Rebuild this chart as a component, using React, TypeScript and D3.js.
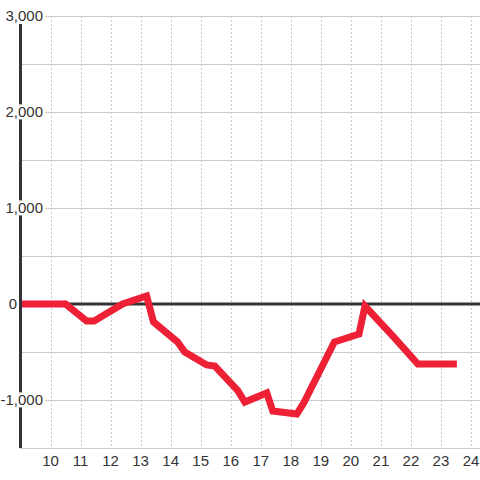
import React, { useEffect, useRef } from "react";
import * as d3 from "d3";

const hours = [9, 10.5, 11.2, 11.45, 12.4, 13.2, 13.43, 14.23, 14.47, 15.2, 15.47, 16.23, 16.47, 17.2, 17.4, 18.2, 18.43, 19.45, 20.27, 20.47, 21.43, 22.23, 23.53];
const values = [0, 0, -177, -177, 0, 83, -188, -396, -500, -635, -646, -900, -1021, -927, -1115, -1146, -1031, -396, -312, -21, -344, -625, -625];
const xTicks = [10, 11, 12, 13, 14, 15, 16, 17, 18, 19, 20, 21, 22, 23, 24];
const yLabelTicks = [3000, 2000, 1000, 0, -1000];
const yGridTicks = [3000, 2500, 2000, 1500, 1000, 500, 0, -500, -1000, -1500];

export default function App() {
  const ref = useRef<SVGSVGElement>(null);

  useEffect(() => {
    const svg = d3.select(ref.current);
    svg.selectAll("*").remove();
    const W = 480, H = 480;
    const x = d3.scaleLinear().domain([9, 24.3]).range([20.5, 480]);
    const y = d3.scaleLinear().domain([-1500, 3000]).range([448, 16]);

    svg.append("rect").attr("width", W).attr("height", H).attr("fill", "#fff");

    // vertical dashed grid
    svg.append("g").selectAll("line").data(xTicks).join("line")
      .attr("x1", d => Math.round(x(d)) + 0.5).attr("x2", d => Math.round(x(d)) + 0.5)
      .attr("y1", y(3000)).attr("y2", y(-1500))
      .attr("stroke", "#c8c8c8").attr("stroke-width", 1).attr("stroke-dasharray", "2,2");

    // horizontal grid
    svg.append("g").selectAll("line").data(yGridTicks.filter(d => d !== 0)).join("line")
      .attr("x1", 20).attr("x2", W)
      .attr("y1", d => Math.round(y(d)) + 0.5).attr("y2", d => Math.round(y(d)) + 0.5)
      .attr("stroke", "#cccccc").attr("stroke-width", 1);

    // zero line
    svg.append("line").attr("x1", 20).attr("x2", W).attr("y1", y(0)).attr("y2", y(0))
      .attr("stroke", "#333").attr("stroke-width", 3);

    // data line
    const line = d3.line<number>().x((_, i) => x(hours[i])).y(d => y(d));
    svg.append("path").datum(values).attr("d", line)
      .attr("fill", "none").attr("stroke", "#ee2035").attr("stroke-width", 7)
      .attr("stroke-linejoin", "miter");

    // y axis line
    svg.append("line").attr("x1", 20.5).attr("x2", 20.5).attr("y1", 24).attr("y2", 448)
      .attr("stroke", "#333").attr("stroke-width", 3);

    // y labels with white background
    const labels = svg.append("g");
    yLabelTicks.forEach(v => {
      const g = labels.append("g");
      const t = g.append("text")
        .attr("x", v === 0 ? 17 : 43)
        .attr("y", y(v))
        .attr("dy", "0.36em")
        .attr("text-anchor", "end")
        .attr("font-family", "Liberation Sans, Arial, sans-serif")
        .attr("font-size", 15)
        .attr("fill", "#333")
        .text(d3.format(",")(v).replace("−", "-"));
      const bb = (t.node() as SVGTextElement).getBBox();
      g.insert("rect", "text")
        .attr("x", bb.x - 1).attr("y", bb.y + 1)
        .attr("width", bb.width + 3).attr("height", bb.height - 2)
        .attr("fill", "#fff");
    });

    // x labels
    svg.append("g").selectAll("text").data(xTicks).join("text")
      .attr("x", d => x(d))
      .attr("y", 466)
      .attr("text-anchor", "middle")
      .attr("font-family", "Liberation Sans, Arial, sans-serif")
      .attr("font-size", 15)
      .attr("fill", "#333")
      .text(d => String(d));
  }, []);

  return (
    <div style={{ position: "fixed", left: 0, top: 0 }}>
      <svg ref={ref} width={480} height={480} />
    </div>
  );
}
